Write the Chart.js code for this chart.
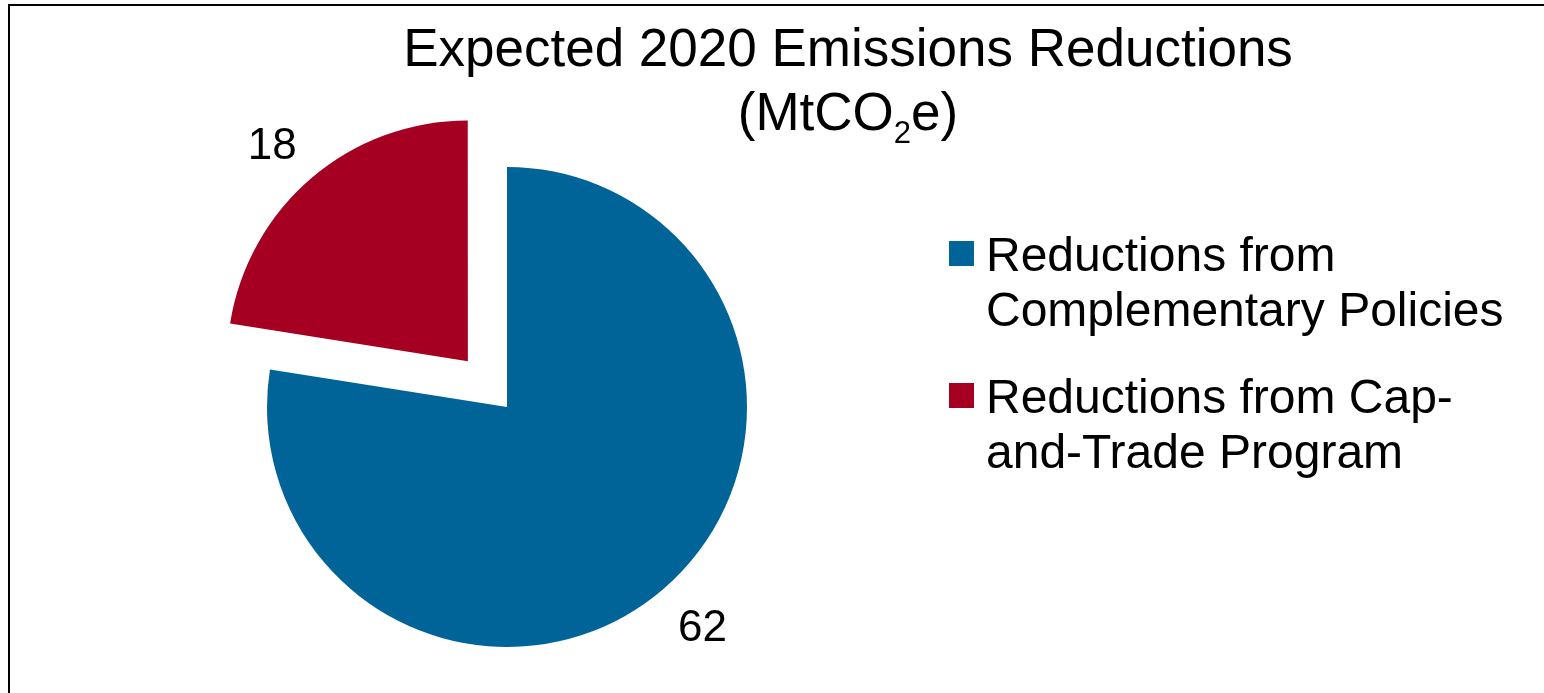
<!DOCTYPE html>
<html>
<head>
<meta charset="utf-8">
<title>Expected 2020 Emissions Reductions</title>
<script src="https://cdn.jsdelivr.net/npm/chart.js@4/dist/chart.umd.min.js"></script>
<style>
  html, body { margin: 0; padding: 0; background: #fff; }
  body { width: 1544px; height: 693px; position: relative; overflow: hidden;
         font-family: 'Liberation Sans', Arial, sans-serif; color: #000; }
  #clip { position: absolute; left: 0; top: 0; width: 1544px; height: 693px; overflow: hidden; }
  #frame { position: absolute; left: 8px; top: 4px; width: 1600px; height: 800px;
           border-top: 2px solid #000; border-left: 2px solid #000; }
  #wrap { position: absolute; left: 0; top: 0; width: 1544px; height: 693px; }
  #title { position: absolute; left: 348px; top: 16px; width: 1000px; text-align: center;
           font-size: 53px; line-height: 64px; white-space: nowrap; }
  #title .sub { font-size: 31px; line-height: 1; position: relative; top: 13px; }
  #legend { position: absolute; left: 949px; top: 227px; }
  .item { position: relative; padding-left: 37px; font-size: 48px; line-height: 55px;
          white-space: nowrap; margin-bottom: 32px; }
  .item .box { position: absolute; left: 0; top: 14px; width: 25px; height: 25px; }
</style>
</head>
<body>
<div id="clip"><div id="frame"></div></div>
<div id="wrap"><canvas id="chart" width="1544" height="693"></canvas></div>
<div id="title">Expected 2020 Emissions Reductions<br>(MtCO<span class="sub">2</span>e)</div>
<div id="legend"></div>

<script>
// emissions reductions expected by 2020, MtCO2e
const categories = [
  ['Reductions from', 'Complementary Policies'],
  ['Reductions from Cap-', 'and-Trade Program']
];
const reductions = [62, 18];
const sliceColors = ['#006499', '#a50021'];
const explode = [0, 241];

// value labels sit just outside each slice, turned a touch anticlockwise
const labelGap = 53;
const labelTurn = -0.024;

const sliceLabels = {
  id: 'sliceLabels',
  afterDatasetsDraw(chart) {
    const ctx = chart.ctx;
    const meta = chart.getDatasetMeta(0);
    const values = chart.data.datasets[0].data;
    ctx.save();
    ctx.font = "44px 'Liberation Sans', Arial, sans-serif";
    ctx.fillStyle = '#000';
    ctx.textAlign = 'center';
    ctx.textBaseline = 'alphabetic';
    meta.data.forEach((arc, i) => {
      const p = arc.getProps(['x', 'y', 'startAngle', 'endAngle', 'outerRadius'], true);
      const mid = (p.startAngle + p.endAngle) / 2;
      const shift = (arc.options.offset || 0) / 4;
      const cx = p.x + Math.cos(mid) * shift;
      const cy = p.y + Math.sin(mid) * shift;
      const a = mid + labelTurn;
      const r = p.outerRadius + labelGap;
      ctx.fillText(String(values[i]), cx + Math.cos(a) * r, cy + Math.sin(a) * r + 16);
    });
    ctx.restore();
  }
};

new Chart(document.getElementById('chart'), {
  type: 'pie',
  data: {
    labels: categories,
    datasets: [{
      data: reductions,
      backgroundColor: sliceColors,
      borderWidth: 0,
      offset: explode,
      hoverOffset: 0,
      radius: 240
    }]
  },
  options: {
    responsive: false,
    animation: false,
    layout: { padding: { left: 0, right: 530, top: 121, bottom: 0 } },
    plugins: {
      legend: { display: false },
      title: { display: false },
      tooltip: { enabled: false }
    }
  },
  plugins: [sliceLabels]
});

// legend beside the pie
const legend = document.getElementById('legend');
categories.forEach((lines, i) => {
  const item = document.createElement('div');
  item.className = 'item';
  const box = document.createElement('span');
  box.className = 'box';
  box.style.background = sliceColors[i];
  item.appendChild(box);
  lines.forEach((line, j) => {
    if (j) item.appendChild(document.createElement('br'));
    item.appendChild(document.createTextNode(line));
  });
  legend.appendChild(item);
});
</script>
</body>
</html>
